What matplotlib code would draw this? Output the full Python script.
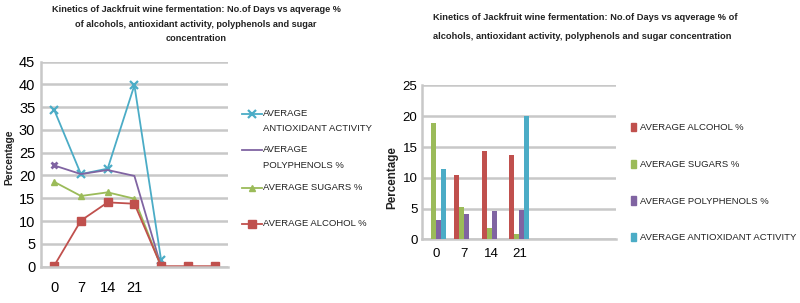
import matplotlib
matplotlib.use("Agg")
import matplotlib.pyplot as plt
import numpy as np
from matplotlib.lines import Line2D
from matplotlib.patches import Patch

plt.rcParams['font.family'] = ['Liberation Sans', 'DejaVu Sans']

# ---- data ----
days_labels = ["0", "7", "14", "21", "", "", ""]
n_cat = 7

# left line chart
line_antiox = [34.4, 20.3, 21.5, 39.8, 1.4, None, None]
line_poly = [22.2, 20.3, 21.2, 19.9, 0.0, None, None]
line_sugar = [18.6, 15.5, 16.3, 14.9, 0.0, None, None]
line_alcohol = [0.2, 10.1, 14.1, 13.8, 0.1, 0.1, 0.1]

# right bar chart
bar_days = ["0", "7", "14", "21", "", "", ""]
bar_alcohol = [0.0, 10.4, 14.3, 13.7, 0, 0, 0]
bar_sugar = [18.9, 5.2, 1.8, 0.9, 0, 0, 0]
bar_poly = [3.1, 4.1, 4.6, 4.8, 0, 0, 0]
bar_antiox = [11.4, 0.0, 0.0, 20.1, 0, 0, 0]

RED = "#C0504D"
GREEN = "#9BBB59"
PURPLE = "#8064A2"
CYAN = "#4BACC6"
GRID = "#C8C8C8"
TXT = "#222222"

title = "Kinetics of Jackfruit wine fermentation: No.of Days vs aqverage %"

W, H = 800, 303
fig = plt.figure(figsize=(8, 3.03), dpi=100)

def fx(px):
    return px / W

def fy(py):
    return 1 - py / H

def to_arr(v):
    return np.array([np.nan if x is None else x for x in v], dtype=float)

# ---------- left chart ----------
ax1 = fig.add_axes([0.051, 0.120, 0.234, 0.677])
x = np.arange(n_cat)
sty = {
    'antiox': dict(color=CYAN, lw=1.3, marker='x', ms=6, mew=1.6),
    'poly': dict(color=PURPLE, lw=1.3),
    'sugar': dict(color=GREEN, lw=1.3, marker='^', ms=5),
    'alcohol': dict(color=RED, lw=1.3, marker='s', ms=5.5),
}
ax1.plot(x, to_arr(line_antiox), **sty['antiox'])
ax1.plot(x, to_arr(line_poly), marker='x', ms=5, mew=2, markevery=[0], **sty['poly'])
ax1.plot(x, to_arr(line_sugar), **sty['sugar'])
ax1.plot(x, to_arr(line_alcohol), **sty['alcohol'])
ax1.set_xlim(-0.5, n_cat - 0.5)
ax1.set_ylim(0, 45)
ax1.set_yticks(np.arange(0, 46, 5))
ax1.set_xticks(x)
ax1.set_xticklabels(days_labels)
ax1.tick_params(axis='y', length=0, labelsize=10.5, pad=4)
ax1.tick_params(axis='x', length=0, labelsize=10.5, pad=10)
ax1.grid(axis='y', color=GRID, lw=1.8)
ax1.set_axisbelow(True)
for s in ['top', 'right']:
    ax1.spines[s].set_visible(False)
for s in ['left', 'bottom']:
    ax1.spines[s].set_color(GRID)
    ax1.spines[s].set_linewidth(1.8)
fig.text(fx(9), fy(157), "Percentage", rotation=90, ha='center', va='center',
         fontsize=7.4, fontweight='bold', color=TXT)
fig.text(0.245, fy(5.5), title + "\nof alcohols, antioxidant activity, polyphenols and sugar\nconcentration",
         ha='center', va='top', fontsize=6.6, fontweight='bold', linespacing=1.78, color=TXT)

# left legend (handle aligned with first text line, as in the reference)
leg_items = [
    ('antiox', ["AVERAGE", "ANTIOXIDANT ACTIVITY"], 114),
    ('poly', ["AVERAGE", "POLYPHENOLS %"], 150),
    ('sugar', ["AVERAGE SUGARS %"], 188),
    ('alcohol', ["AVERAGE ALCOHOL %"], 224),
]
for key, lines, ypx in leg_items:
    st = sty[key]
    fig.add_artist(Line2D([fx(242), fx(262)], [fy(ypx), fy(ypx)], transform=fig.transFigure,
                          color=st['color'], lw=st['lw']))
    if 'marker' in st:
        fig.add_artist(Line2D([fx(252)], [fy(ypx)], transform=fig.transFigure, color=st['color'],
                              marker=st['marker'], ms=st['ms'], mew=st.get('mew', 1), lw=0))
    for i, ln in enumerate(lines):
        fig.text(fx(263), fy(ypx + 15 * i), ln, ha='left', va='center', fontsize=6.8, color=TXT)

# ---------- right chart ----------
ax2 = fig.add_axes([0.528, 0.210, 0.2425, 0.508])
w = 0.18
offs = np.array([-1.5, -0.5, 0.5, 1.5]) * w
for vals, c, o in zip([bar_alcohol, bar_sugar, bar_poly, bar_antiox],
                      [RED, GREEN, PURPLE, CYAN], offs):
    ax2.bar(x + o, vals, width=w, color=c, zorder=3)
ax2.set_xlim(-0.5, n_cat - 0.5)
ax2.set_ylim(0, 25)
ax2.set_yticks(np.arange(0, 26, 5))
ax2.set_xticks(x)
ax2.set_xticklabels(bar_days)
ax2.tick_params(axis='y', length=0, labelsize=9.5, pad=3.5)
ax2.tick_params(axis='x', length=0, labelsize=9.5, pad=6)
ax2.grid(axis='y', color=GRID, lw=1.8)
ax2.set_axisbelow(True)
for s in ['top', 'right']:
    ax2.spines[s].set_visible(False)
for s in ['left', 'bottom']:
    ax2.spines[s].set_color(GRID)
    ax2.spines[s].set_linewidth(1.8)
fig.text(fx(392), fy(178), "Percentage", rotation=90, ha='center', va='center',
         fontsize=8.4, fontweight='bold', color=TXT)
fig.text(fx(433), fy(12.5), title + " of\nalcohols, antioxidant activity, polyphenols and sugar concentration",
         ha='left', va='top', fontsize=6.7, fontweight='bold', linespacing=2.5, color=TXT)

handles2 = [Patch(color=RED), Patch(color=GREEN), Patch(color=PURPLE), Patch(color=CYAN)]
labels2 = ["AVERAGE ALCOHOL %", "AVERAGE SUGARS %", "AVERAGE POLYPHENOLS %",
           "AVERAGE ANTIOXIDANT ACTIVITY"]
leg2 = fig.legend(handles2, labels2, loc='upper left', bbox_to_anchor=(fx(631), fy(123)),
                  frameon=False, fontsize=6.8, handlelength=0.55, handleheight=1.0,
                  handletextpad=0.45, labelspacing=2.88, borderaxespad=0, borderpad=0)
for t in leg2.get_texts():
    t.set_color(TXT)

fig.savefig("out.png", dpi=100)
